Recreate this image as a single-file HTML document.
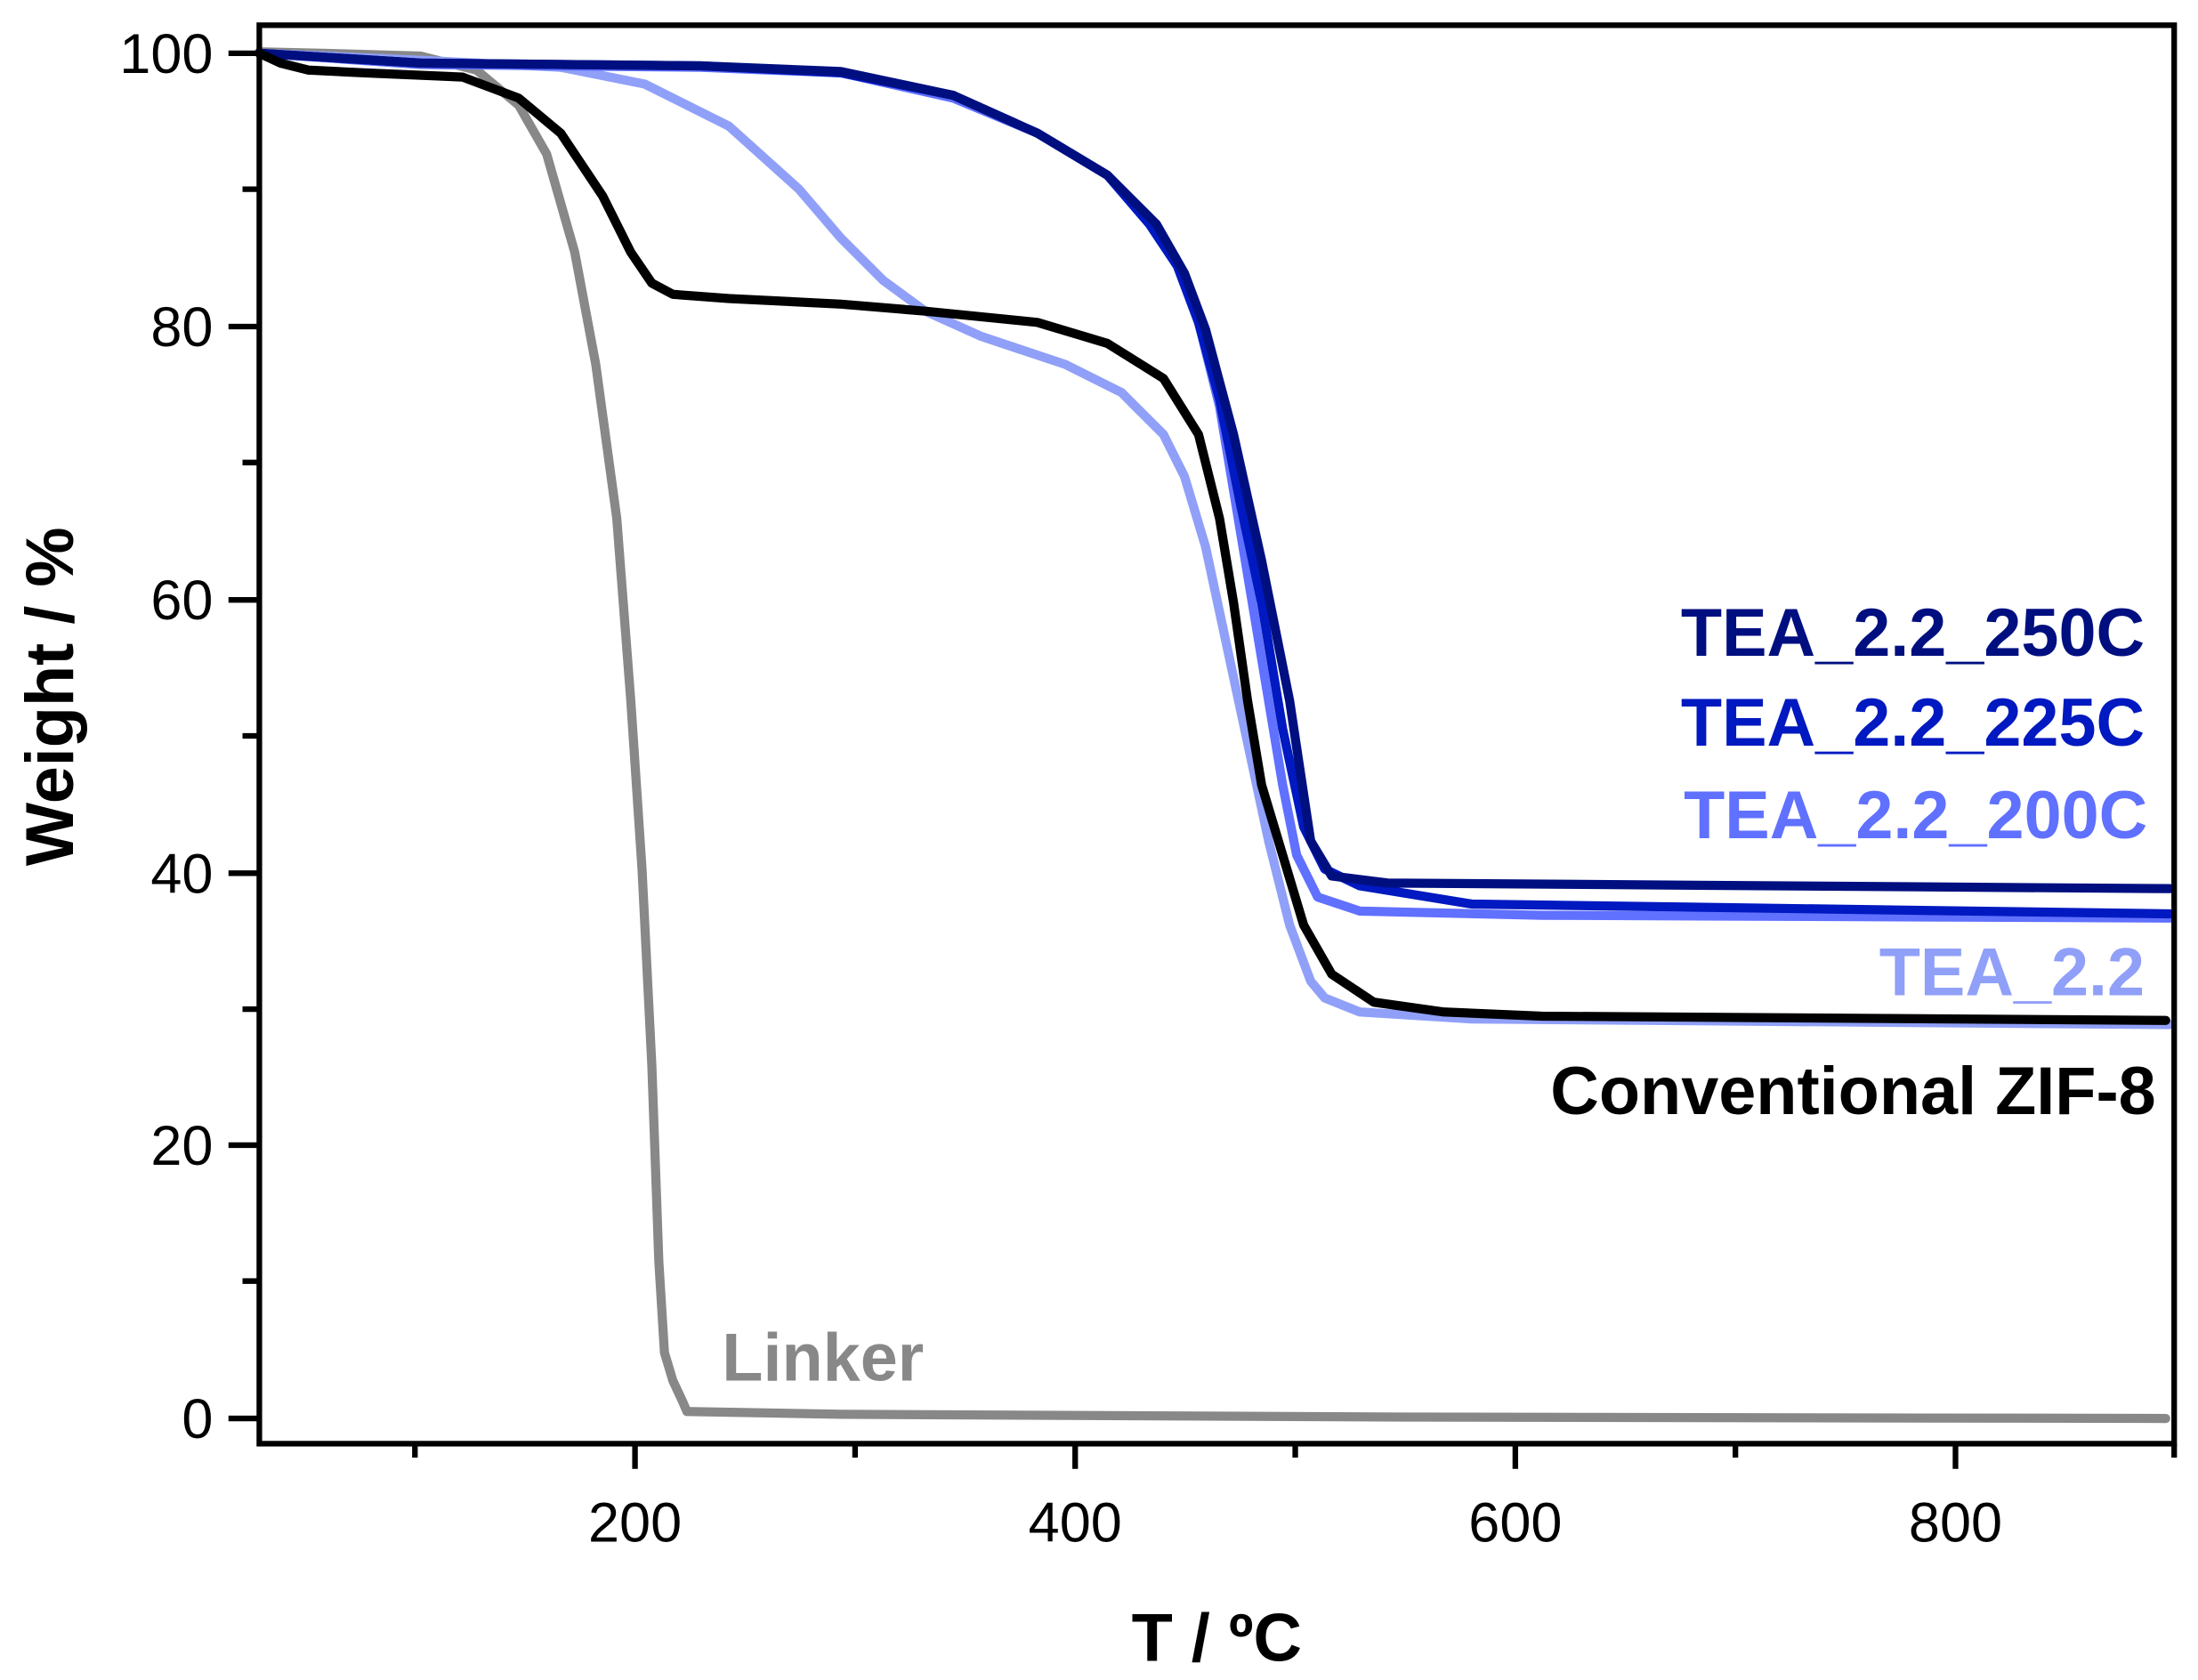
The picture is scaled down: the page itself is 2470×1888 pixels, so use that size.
<!DOCTYPE html>
<html><head><meta charset="utf-8"><style>body{margin:0;background:#fff}svg{display:block}</style></head><body>
<svg width="2470" height="1888" viewBox="0 0 1568 1198.6" preserveAspectRatio="none" xmlns="http://www.w3.org/2000/svg" font-family="Liberation Sans, Arial, sans-serif">
<g fill="none" stroke-linejoin="round" stroke-linecap="round" stroke-width="6.5">
<polyline stroke="#888" points="185,37 230,38 300,40 340,50 370,75 390,110 410,180 425,260 440,370 450,500 458,620 465,760 470,900 474,965 480,985 487,1000 490,1007 600,1009 1000,1011 1545,1012"/>
<polyline stroke="#90a0f8" points="185,38 300,43 400,48 460,60 520,90 570,135 600,170 630,200 660,222 700,240 760,260 800,280 830,310 845,340 860,390 875,460 890,530 905,600 920,660 935,700 945,712 970,722 1050,727 1548,731"/>
<polyline stroke="#6070ff" points="185,38 300,46 500,48 600,52 680,70 740,95 790,125 820,155 840,190 855,230 870,290 885,380 900,470 915,560 925,610 940,640 970,650 1100,653 1548,655"/>
<polyline stroke="#0019c0" points="185,38 300,45 500,47 600,52 680,68 740,95 790,125 820,160 840,190 855,230 870,285 885,360 900,430 915,520 930,590 945,620 970,632 1050,645 1548,652"/>
<polyline stroke="#000f80" points="185,38 300,45 500,47 600,51 680,68 740,95 790,125 825,160 845,195 860,235 880,310 900,400 920,500 935,600 950,625 990,630 1548,634"/>
<polyline stroke="#000" points="185,38 200,45 220,50 260,52 330,55 370,70 400,95 430,140 450,180 465,202 480,210 520,213 600,217 660,222 740,230 790,245 830,270 855,310 870,370 880,430 890,500 900,560 915,610 930,660 950,695 980,715 1030,722 1100,725 1545,728"/>
</g>
<g stroke="#000" stroke-width="4" fill="none">
<rect x="185" y="18" width="1366" height="1012"/>
<path d="M163,1012H185M163,817H185M163,623H185M163,428H185M163,233H185M163,38H185M173,914H185M173,720H185M173,525H185M173,330H185M173,135H185"/>
<path d="M453,1030V1048M767,1030V1048M1081,1030V1048M1395,1030V1048M296,1030V1040M610,1030V1040M924,1030V1040M1238,1030V1040M1551,1030V1040"/>
</g>
<g font-size="40" text-anchor="end">
<text x="152" y="1026">0</text><text x="152" y="831">20</text><text x="152" y="637">40</text><text x="152" y="442">60</text><text x="152" y="247">80</text><text x="152" y="52">100</text>
</g>
<g font-size="40" text-anchor="middle">
<text x="453" y="1100">200</text><text x="767" y="1100">400</text><text x="1081" y="1100">600</text><text x="1395" y="1100">800</text>
</g>
<text x="868" y="1185" font-size="48" font-weight="bold" text-anchor="middle">T / ºC</text>
<text transform="translate(52,497) rotate(-90)" font-size="48" font-weight="bold" text-anchor="middle">Weight / %</text>
<g font-size="48" font-weight="bold" text-anchor="end">
<text x="1530" y="468" fill="#000f80">TEA_2.2_250C</text>
<text x="1530" y="532" fill="#0019c0">TEA_2.2_225C</text>
<text x="1532" y="598" fill="#6070ff">TEA_2.2_200C</text>
<text x="1530" y="710" fill="#90a0f8">TEA_2.2</text>
<text x="1538" y="795" fill="#000">Conventional ZIF-8</text>
</g>
<text x="515" y="985" font-size="48" font-weight="bold" fill="#888">Linker</text>
</svg>
</body></html>
